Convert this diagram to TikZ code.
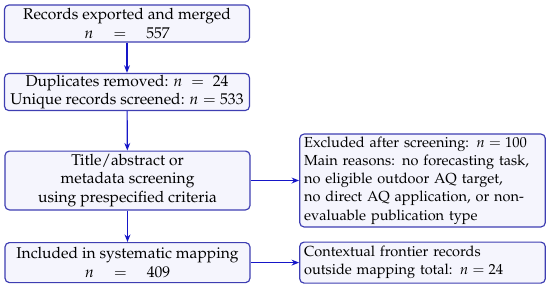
\documentclass[tikz,border=0pt]{standalone}
\usepackage[T1]{fontenc}
\usepackage{mathpazo}
\usepackage{tikz}
\usetikzlibrary{positioning,arrows.meta}

\definecolor{boxline}{RGB}{62,62,178}
\definecolor{boxfill}{RGB}{245,245,253}
\definecolor{arrowblue}{RGB}{22,22,200}

\begin{document}
\begin{tikzpicture}[
        x=0.68pt, y=-0.68pt,
        font=\fontsize{10.6}{12.6}\selectfont,
        >={Stealth[length=1.8mm,width=1.4mm]},
        stage/.style={
            rectangle,
            rounded corners=3pt,
            draw=boxline,
            thick,
            fill=boxfill,
            align=center,
            inner xsep=2pt,
            inner ysep=1pt,
            minimum width=166.6pt,
            minimum height=#1
        },
        sidebox/.style={
            stage=#1,
            font=\fontsize{9.9}{12.4}\selectfont,
            text width=161pt,
            inner xsep=3pt,
            align=left
        },
        flow/.style={->, thick, draw=arrowblue},
        node distance=33pt
    ]

        \useasboundingbox (0,0) rectangle (550,288);

        % Main column
        \node[stage=25.2pt] (rec) at (127,23.5)
            {Records exported and merged\\$n\quad=\quad557$};
        \node[stage=21.8pt] (dup) at (127,92)
            {Duplicates removed: $n\;=\;24$\\Unique records screened: $n=533$};
        \node[stage=40pt] (scr) at (127.5,180.5)
            {Title/abstract or\\metadata screening\\using prespecified criteria};
        \node[stage=27.2pt] (inc) at (127.5,262.6)
            {Included in systematic mapping\\$n\quad=\quad409$};

        % Side boxes
        \node[sidebox=63.2pt, right=of scr] (exc)
            {Excluded after screening: $n=100$\\
             Main reasons: no forecasting task,\\
             no eligible outdoor AQ target,\\
             no direct AQ application, or non-\\
             evaluable publication type};
        \node[sidebox=27.9pt, right=of inc] (ctx)
            {Contextual frontier records\\outside mapping total: $n=24$};

        % Arrows
        \draw[flow] (rec) -- (dup);
        \draw[flow] (dup) -- (scr);
        \draw[flow] (scr) -- (inc);
        \draw[flow] (scr) -- (exc);
        \draw[flow] (inc) -- (ctx);

    \end{tikzpicture}
\end{document}
